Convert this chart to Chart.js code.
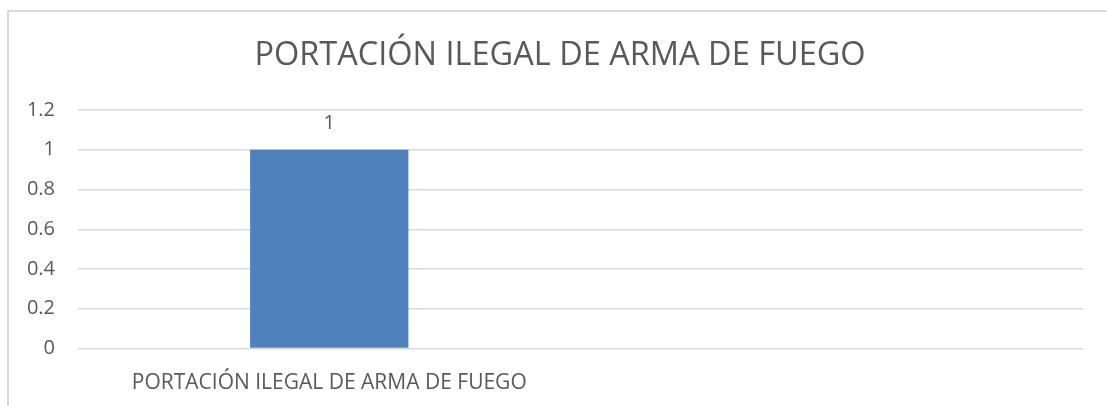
<!DOCTYPE html>
<html>
<head>
<meta charset="utf-8">
<script src="https://cdn.jsdelivr.net/npm/chart.js@4/dist/chart.umd.min.js"></script>
<style>
  html, body { margin: 0; padding: 0; background: #fff; overflow: hidden; }
  #marco { position: absolute; left: 7px; top: 10px; width: 1200px; height: 500px; border: 1px solid #d9d9d9; border-width: 2px 0 0 2px; box-sizing: border-box; }
  #caja { position: absolute; left: 0; top: 0; width: 1107px; height: 406px; }
</style>
</head>
<body>
<div id="marco"></div>
<div id="caja"><canvas id="myChart" width="1107" height="406"></canvas></div>
<script>
var titulo = "PORTACIÓN ILEGAL DE ARMA DE FUEGO";
var categorias = ["PORTACIÓN ILEGAL DE ARMA DE FUEGO", ""];
var valores = [1, null];
var ticksY = [0, 0.2, 0.4, 0.6, 0.8, 1, 1.2];

var colorTexto = "#595959";

// etiqueta de valor sobre cada barra
var etiquetasBarras = {
  id: "etiquetasBarras",
  afterDatasetsDraw: function (chart) {
    var ctx = chart.ctx;
    var meta = chart.getDatasetMeta(0);
    ctx.save();
    ctx.fillStyle = colorTexto;
    ctx.font = "20px 'Open Sans'";
    ctx.textAlign = "center";
    ctx.textBaseline = "middle";
    meta.data.forEach(function (barra, i) {
      if (valores[i] == null) return;
      ctx.fillText(String(valores[i]), barra.x, barra.y - 26);
    });
    ctx.restore();
  },
};

const ctx = document.getElementById("myChart");
var myChart = new Chart(ctx, {
  type: "bar",
  data: {
    labels: categorias,
    datasets: [
      {
        label: titulo,
        data: valores,
        backgroundColor: "#4f81bd",
        categoryPercentage: 1,
        barPercentage: 0.315,
      },
    ],
  },
  options: {
    responsive: false,
    animation: false,
    layout: { padding: { left: 20, right: 7, top: 0, bottom: 10 } },
    plugins: {
      legend: { display: false },
      tooltip: { enabled: false },
      title: {
        display: true,
        text: titulo,
        color: colorTexto,
        font: { family: "'Open Sans'", size: 32.5, weight: "normal" },
        padding: { top: 36, bottom: 35 },
      },
    },
    scales: {
      x: {
        grid: { display: false, drawTicks: false },
        border: { display: false },
        afterFit: function (scale) { scale.height = 47.5; },
        ticks: {
          color: colorTexto,
          font: { family: "'Open Sans'", size: 21 },
          padding: 22,
          maxRotation: 0,
        },
      },
      y: {
        min: 0,
        max: 1.2,
        afterBuildTicks: function (scale) {
          scale.ticks = ticksY.map(function (v) { return { value: v }; });
        },
        afterFit: function (scale) { scale.width = 58; },
        grid: { color: "#d9d9d9", lineWidth: 1.5, drawTicks: false },
        border: { display: false },
        ticks: {
          color: colorTexto,
          font: { family: "'Open Sans'", size: 20 },
          padding: 23,
          callback: function (v) { return String(Math.round(v * 10) / 10); },
        },
      },
      // eje vacío a la derecha, solo para dejar margen
      derecha: {
        position: "right",
        grid: { display: false, drawTicks: false },
        border: { display: false },
        ticks: { display: false },
        afterFit: function (scale) { scale.width = 17; },
      },
    },
  },
  plugins: [etiquetasBarras],
});
</script>
</body>
</html>
